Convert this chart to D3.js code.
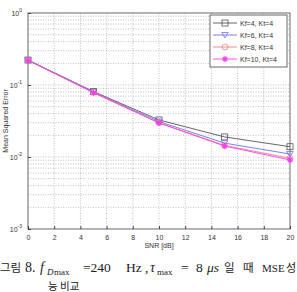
<!DOCTYPE html>
<html>
<head>
<meta charset="utf-8">
<script src="https://cdn.jsdelivr.net/npm/d3@7"></script>
<style>
  body { margin: 0; background: #fff; }
  svg { display: block; }
</style>
</head>
<body>
<div id="chart"></div>
<script>
// data
var snr = [0, 5, 10, 15, 20];
var kf4 = [0.222, 0.081, 0.0327, 0.019, 0.0139];
var kf6 = [0.222, 0.080, 0.0310, 0.0156, 0.0110];
var kf8 = [0.221, 0.079, 0.0300, 0.0145, 0.0096];
var kf10 = [0.220, 0.078, 0.0297, 0.0142, 0.0091];
var seriesNames = ['Kf=4, Kt=4', 'Kf=6, Kt=4', 'Kf=8, Kt=4', 'Kf=10, Kt=4'];
var xTicks = [0, 2, 4, 6, 8, 10, 12, 14, 16, 18, 20];
var yTicks = [1e-3, 1e-2, 1e-1, 1];
var yTickExp = ['-3', '-2', '-1', '0'];

var width = 297, height = 292;
var margin = { top: 13, right: 7, bottom: 63, left: 28 };

var colors = ['#555555', '#6f6ff0', '#f08080', '#f040f0'];
var markers = ['square', 'tri', 'circle', 'star'];

var svg = d3.select('#chart').append('svg')
	.attr('width', width)
	.attr('height', height);

var x = d3.scaleLinear().domain([0, 20]).range([margin.left, width - margin.right]);
var y = d3.scaleLog().domain([1e-3, 1]).range([height - margin.bottom, margin.top]);

var x0 = x(0), x1 = x(20), y0 = y(1e-3), y1 = y(1);

// grid
var grid = svg.append('g').attr('stroke', '#999').attr('stroke-width', 0.6).attr('stroke-dasharray', '1,1.5');
xTicks.slice(1, -1).forEach(function(t) {
	grid.append('line').attr('x1', x(t)).attr('x2', x(t)).attr('y1', y0).attr('y2', y1);
});
var minor = [];
[1e-3, 1e-2, 1e-1].forEach(function(d) {
	for (var k = 1; k <= 9; k++) minor.push(d * k);
});
minor.slice(1).forEach(function(v) {
	grid.append('line').attr('x1', x0).attr('x2', x1).attr('y1', y(v)).attr('y2', y(v));
});

// box
svg.append('rect').attr('x', x0).attr('y', y1).attr('width', x1 - x0).attr('height', y0 - y1)
	.attr('fill', 'none').attr('stroke', '#444').attr('stroke-width', 0.8);

// axes
var xAxis = d3.axisBottom(x).tickValues(xTicks).tickSize(-3).tickPadding(6).tickFormat(d3.format('d'));
var gx = svg.append('g').attr('transform', 'translate(0,' + y0 + ')').call(xAxis);
gx.select('.domain').remove();
gx.selectAll('line').attr('stroke', '#444');
gx.selectAll('text').attr('font-family', 'Liberation Sans, Arial, sans-serif').attr('font-size', 7).attr('fill', '#333');

var yAxis = d3.axisLeft(y).tickValues(yTicks).tickSize(-3).tickFormat('');
var gy = svg.append('g').attr('transform', 'translate(' + x0 + ',0)').call(yAxis);
gy.select('.domain').remove();
gy.selectAll('line').attr('stroke', '#444');

yTicks.forEach(function(t, i) {
	var lab = svg.append('text')
		.attr('x', x0 - 6).attr('y', y(t) + 3)
		.attr('text-anchor', 'end')
		.attr('font-family', 'Liberation Sans, Arial, sans-serif')
		.attr('fill', '#333');
	lab.append('tspan').attr('font-size', 7).text('10');
	lab.append('tspan').attr('font-size', 5).attr('dy', -4).text(yTickExp[i]);
});

svg.append('text')
	.attr('x', (x0 + x1) / 2).attr('y', y0 + 19)
	.attr('text-anchor', 'middle')
	.attr('font-family', 'Liberation Sans, Arial, sans-serif')
	.attr('font-size', 7).attr('fill', '#333')
	.text('SNR [dB]');

svg.append('text')
	.attr('transform', 'translate(8,' + ((y0 + y1) / 2) + ') rotate(-90)')
	.attr('text-anchor', 'middle')
	.attr('font-family', 'Liberation Sans, Arial, sans-serif')
	.attr('font-size', 7).attr('fill', '#333')
	.text('Mean Squared Error');

function drawMarker(g, type, cx, cy, color) {
	if (type === 'square') {
		g.append('rect').attr('x', cx - 3).attr('y', cy - 3).attr('width', 6).attr('height', 6)
			.attr('fill', 'none').attr('stroke', color).attr('stroke-width', 0.8);
	} else if (type === 'tri') {
		g.append('path').attr('d', 'M' + (cx - 3.2) + ',' + (cy - 2.5) + 'L' + (cx + 3.2) + ',' + (cy - 2.5) + 'L' + cx + ',' + (cy + 3) + 'Z')
			.attr('fill', 'none').attr('stroke', color).attr('stroke-width', 0.8);
	} else if (type === 'circle') {
		g.append('circle').attr('cx', cx).attr('cy', cy).attr('r', 3)
			.attr('fill', 'none').attr('stroke', color).attr('stroke-width', 0.8);
	} else {
		var s = 'M' + (cx - 3) + ',' + cy + 'L' + (cx + 3) + ',' + cy +
			'M' + cx + ',' + (cy - 3) + 'L' + cx + ',' + (cy + 3) +
			'M' + (cx - 2.2) + ',' + (cy - 2.2) + 'L' + (cx + 2.2) + ',' + (cy + 2.2) +
			'M' + (cx - 2.2) + ',' + (cy + 2.2) + 'L' + (cx + 2.2) + ',' + (cy - 2.2);
		g.append('path').attr('d', s).attr('stroke', color).attr('stroke-width', 1.1);
	}
}

// lines
var allSeries = [kf4, kf6, kf8, kf10];
var line = d3.line()
	.x(function(d, i) { return x(snr[i]); })
	.y(function(d) { return y(d); });

allSeries.forEach(function(vals, k) {
	var g = svg.append('g');
	g.append('path').datum(vals).attr('d', line)
		.attr('fill', 'none').attr('stroke', colors[k]).attr('stroke-width', 0.9);
	vals.forEach(function(v, i) {
		drawMarker(g, markers[k], x(snr[i]), y(v), colors[k]);
	});
});

// legend
var lg = svg.append('g');
var lx = 210, ly = 15, lw = 77, lh = 52;
lg.append('rect').attr('x', lx).attr('y', ly).attr('width', lw).attr('height', lh)
	.attr('fill', '#fff').attr('stroke', '#444').attr('stroke-width', 0.8);
seriesNames.forEach(function(name, k) {
	var yy = ly + 8 + k * 12;
	lg.append('line').attr('x1', lx + 3).attr('x2', lx + 27).attr('y1', yy).attr('y2', yy)
		.attr('stroke', colors[k]).attr('stroke-width', 0.9);
	drawMarker(lg, markers[k], lx + 15, yy, colors[k]);
	lg.append('text').attr('x', lx + 30).attr('y', yy + 2.5)
		.attr('font-family', 'Liberation Sans, Arial, sans-serif')
		.attr('font-size', 7).attr('fill', '#333')
		.text(name);
});

// caption
var serif = 'Liberation Serif, Times New Roman, serif';
var kr = 'Noto Sans CJK KR, sans-serif';
var cap = svg.append('g').attr('fill', '#222');
function put(tx, ty, str, font, size, italic) {
	var t = cap.append('text').attr('x', tx).attr('y', ty)
		.attr('font-family', font).attr('font-size', size).text(str);
	if (italic) t.attr('font-style', 'italic');
	return t;
}
put(0, 272, '그림', kr, 11.5);
put(25, 272, '8.', serif, 14);
put(40, 272, 'f', serif, 14, true);
put(47, 275, 'D', serif, 9, true);
put(54, 275, 'max', serif, 9);
put(83, 272, '=240', serif, 13.5);
put(126, 272, 'Hz ,', serif, 13.5);
put(150, 272, 'τ', serif, 14, true);
put(157, 275, 'max', serif, 9);
put(181, 272, '=', serif, 13.5);
put(196, 272, '8', serif, 13.5);
put(207, 272, 'μs', serif, 13.5, true);
put(224, 272, '일', kr, 11.5);
put(243, 272, '때', kr, 11.5);
put(262, 272, 'MSE', serif, 11);
put(286, 272, '성', kr, 11);
put(48, 290, '능 비교', kr, 10.5);
</script>
</body>
</html>
